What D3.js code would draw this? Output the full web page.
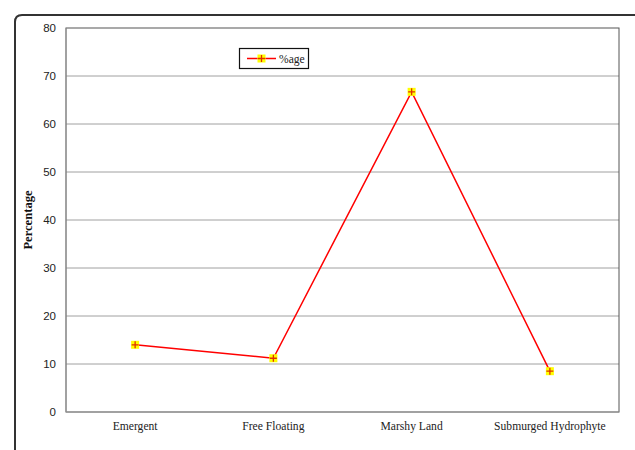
<!DOCTYPE html>
<html>
<head>
<meta charset="utf-8">
<title>Percentage</title>
<script src="https://cdn.jsdelivr.net/npm/d3@7"></script>
<style>
  body { margin: 0; background: #fff; }
</style>
</head>
<body>
<svg width="635" height="450"></svg>
<script>
// data
var categories = ["Emergent", "Free Floating", "Marshy Land", "Submurged Hydrophyte"];
var values = [14.0, 11.2, 66.7, 8.5];
var yTicks = [0, 10, 20, 30, 40, 50, 60, 70, 80];
var seriesName = "%age";

var svg = d3.select("svg");
var margin = {top: 28, left: 66, right: 16, bottom: 38};
var W = 635, H = 450;
var innerW = W - margin.left - margin.right;
var innerH = H - margin.top - margin.bottom;

// outer frame (rounded top-left corner, runs off the picture)
svg.append("path")
  .attr("d", "M15,452 L15,22 Q15,15 22,15 L640,15")
  .attr("fill", "none")
  .attr("stroke", "#333")
  .attr("stroke-width", 2);

var g = svg.append("g")
  .attr("transform", "translate(" + margin.left + "," + margin.top + ")");

var x = d3.scaleBand().domain(categories).range([0, innerW]);
var y = d3.scaleLinear().domain([0, 80]).range([innerH, 0]);

// gridlines
g.selectAll(".grid")
  .data(yTicks.filter(function(d){ return d > 0 && d < 80; }))
  .enter().append("line")
  .attr("x1", 0).attr("x2", innerW)
  .attr("y1", function(d){ return y(d); })
  .attr("y2", function(d){ return y(d); })
  .attr("stroke", "#a0a0a0")
  .attr("stroke-width", 1);

// plot border
g.append("rect")
  .attr("x", 0).attr("y", 0)
  .attr("width", innerW).attr("height", innerH)
  .attr("fill", "none")
  .attr("stroke", "#555")
  .attr("stroke-width", 1);
g.append("line").attr("x1", 0).attr("x2", 0).attr("y1", 0).attr("y2", innerH)
  .attr("stroke", "#999");
g.append("line").attr("x1", 0).attr("x2", innerW).attr("y1", innerH).attr("y2", innerH)
  .attr("stroke", "#999");

// y axis labels
g.selectAll(".ytick")
  .data(yTicks)
  .enter().append("text")
  .attr("x", -10)
  .attr("y", function(d){ return y(d); })
  .attr("dy", "0.35em")
  .attr("text-anchor", "end")
  .attr("font-family", "Liberation Sans, Arial, sans-serif")
  .attr("font-size", "11.5px")
  .attr("fill", "#222")
  .text(function(d){ return d; });

// x axis labels
g.selectAll(".xtick")
  .data(categories)
  .enter().append("text")
  .attr("x", function(d){ return x(d) + x.bandwidth() / 2; })
  .attr("y", innerH + 18)
  .attr("text-anchor", "middle")
  .attr("font-family", "Liberation Serif, Times New Roman, serif")
  .attr("font-size", "11.6px")
  .attr("fill", "#222")
  .text(function(d){ return d; });

// y title
svg.append("text")
  .attr("transform", "translate(32," + (margin.top + innerH / 2) + ") rotate(-90)")
  .attr("text-anchor", "middle")
  .attr("font-family", "Liberation Serif, Times New Roman, serif")
  .attr("font-weight", "bold")
  .attr("font-size", "12.6px")
  .attr("fill", "#111")
  .text("Percentage");

// line
var line = d3.line()
  .x(function(d, i){ return x(categories[i]) + x.bandwidth() / 2; })
  .y(function(d){ return y(d); });

g.append("path")
  .datum(values)
  .attr("d", line)
  .attr("fill", "none")
  .attr("stroke", "#ff0000")
  .attr("stroke-width", 1.5);

function marker(sel) {
  sel.append("rect")
    .attr("x", -4).attr("y", -4).attr("width", 8).attr("height", 8)
    .attr("fill", "#ffff00");
  sel.append("path")
    .attr("d", "M-3.5,0 L3.5,0 M0,-3.5 L0,3.5")
    .attr("stroke", "#e03000")
    .attr("stroke-width", 1.3);
}

g.selectAll(".pt")
  .data(values)
  .enter().append("g")
  .attr("transform", function(d, i){
    return "translate(" + (x(categories[i]) + x.bandwidth() / 2) + "," + y(d) + ")";
  })
  .call(marker);

// legend
var lg = svg.append("g").attr("transform", "translate(239,48)");
lg.append("rect")
  .attr("x", 0.5).attr("y", 0.5).attr("width", 69).attr("height", 20)
  .attr("fill", "#fff").attr("stroke", "#111").attr("stroke-width", 1.2);
lg.append("line")
  .attr("x1", 8).attr("x2", 37).attr("y1", 10.5).attr("y2", 10.5)
  .attr("stroke", "#ff0000").attr("stroke-width", 1.5);
lg.append("g").attr("transform", "translate(22.5,10.5)").call(marker);
lg.append("text")
  .attr("x", 40).attr("y", 10.5).attr("dy", "0.35em")
  .attr("font-family", "Liberation Serif, Times New Roman, serif")
  .attr("font-size", "11.6px")
  .attr("fill", "#222")
  .text(seriesName);
</script>
</body>
</html>
